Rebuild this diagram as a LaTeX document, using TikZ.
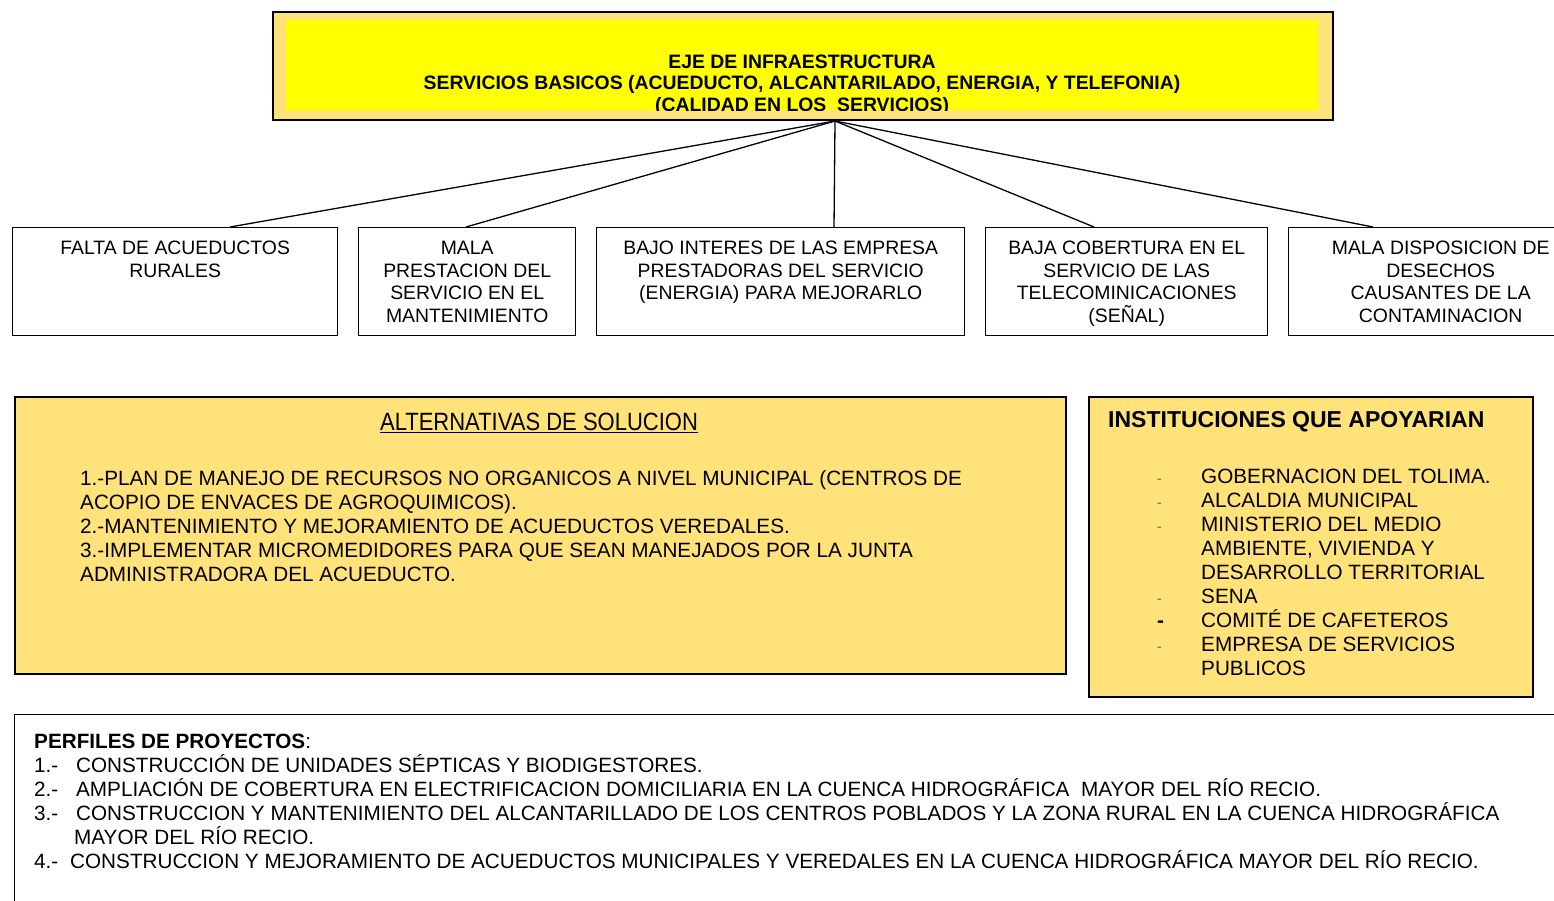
\documentclass[tikz,border=0pt]{standalone}
\usepackage{fontspec}
\setmainfont{Liberation Sans}
\usetikzlibrary{positioning}
\definecolor{oro}{RGB}{255,226,122}
\tikzset{
    Causa/.style={
        draw,
        line width=1.4pt,
        anchor=north west,
        inner sep=0pt,
        minimum height=108pt
    }
}
\tikzset{
    CausaTexto/.style={align=center, inner sep=0pt,
    font=\fontsize{19.4}{22.5}\selectfont}
}
\tikzset{
    Panel/.style={draw, line width=1.6pt, fill=oro, anchor=north west,
    inner sep=0pt}
}
\tikzset{
    Lista/.style={align=left, inner sep=0pt, anchor=north west,
    font=\fontsize{20.7}{24}\selectfont}
}
\tikzset{
    Conector/.style={line width=1.3pt}
}
\newcommand{\drawCausa}[3]{\node[Causa, minimum width=#3] (#1) at #2 {}}
\newcommand{\guion}{\makebox[44pt][l]{\textcolor{black!60}{\fontsize{14}{14}\selectfont -}}}
\newcommand{\guionB}{\makebox[44pt][l]{\textbf{-}}}
\newcommand{\sangria}{\hspace*{44pt}}

\begin{document}
\begin{tikzpicture}[x=1pt, y=-1pt]

    \useasboundingbox (0,0) rectangle (1554,901);
    \clip (0,0) rectangle (1554,901);

    % eje
    \node[Panel, line width=2pt, minimum width=1060pt, minimum height=108pt] (eje) at (272,11) {};
    \node[fill={rgb,255:red,255;green,255;blue,0}, anchor=north west, inner sep=0pt,
        minimum width=1032pt, minimum height=90pt] (ejefondo) at (286,20) {};
    \begin{scope}
        \clip (ejefondo.north west) rectangle (ejefondo.south east);
        \node[align=center, inner sep=0pt, anchor=north,
            font=\bfseries\fontsize{19.4}{21.5}\selectfont] (ejetexto) at (802,54.5)
            {EJE DE INFRAESTRUCTURA\\
             SERVICIOS BASICOS (ACUEDUCTO, ALCANTARILADO, ENERGIA, Y TELEFONIA)\\
             (CALIDAD EN LOS\ \ SERVICIOS)};
    \end{scope}
    \coordinate (hub) at ([xshift=32pt]eje.south);

    % causas
    \drawCausa{c1}{(12,227)}{325pt};
    \drawCausa{c2}{(358,227)}{217pt};
    \drawCausa{c3}{(596,227)}{368pt};
    \drawCausa{c4}{(985,227)}{282pt};
    \drawCausa{c5}{(1288,227)}{304pt};

    \node[CausaTexto, below=14pt of c1.north] (t1) {FALTA DE ACUEDUCTOS\\RURALES};
    \node[CausaTexto, below=14pt of c2.north] (t2) {MALA\\PRESTACION DEL\\SERVICIO EN EL\\MANTENIMIENTO};
    \node[CausaTexto, below=14pt of c3.north] (t3) {BAJO INTERES DE LAS EMPRESA\\PRESTADORAS DEL SERVICIO\\(ENERGIA) PARA MEJORARLO};
    \node[CausaTexto, below=14pt of c4.north] (t4) {BAJA COBERTURA EN EL\\SERVICIO DE LAS\\TELECOMINICACIONES\\(SEÑAL)};
    \node[CausaTexto, below=14pt of c5.north] (t5) {MALA DISPOSICION DE\\DESECHOS\\CAUSANTES DE LA\\CONTAMINACION};

    \draw[Conector] (hub) -- ([xshift=218pt]c1.north west);
    \draw[Conector] (hub) -- ([xshift=108pt]c2.north west);
    \draw[Conector] (hub) -- ([xshift=238pt]c3.north west);
    \draw[Conector] (hub) -- ([xshift=109pt]c4.north west);
    \draw[Conector] (hub) -- ([xshift=85pt]c5.north west);

    % alternativas
    \node[Panel, minimum width=1051pt, minimum height=277pt] (alt) at (14,396) {};
    \node[inner sep=0pt, font=\fontsize{25}{25}\selectfont] (alttitulo) at (539,423)
        {\scalebox{0.88}[1]{\underline{ALTERNATIVAS DE SOLUCION}}};
    \node[Lista] (altlista) at (80,470.6)
        {1.-PLAN DE MANEJO DE RECURSOS NO ORGANICOS A NIVEL MUNICIPAL (CENTROS DE\\
         ACOPIO DE ENVACES DE AGROQUIMICOS).\\
         2.-MANTENIMIENTO Y MEJORAMIENTO DE ACUEDUCTOS VEREDALES.\\
         3.-IMPLEMENTAR MICROMEDIDORES PARA QUE SEAN MANEJADOS POR LA JUNTA\\
         ADMINISTRADORA DEL ACUEDUCTO.};

    % instituciones
    \node[Panel, minimum width=444pt, minimum height=300pt] (inst) at (1088,396) {};
    \node[inner sep=0pt, anchor=north west, font=\bfseries\fontsize{23}{23}\selectfont]
        (insttitulo) at (1108,411.7) {INSTITUCIONES QUE APOYARIAN};
    \node[Lista] (instlista) at (1157,468.6)
        {\guion GOBERNACION DEL TOLIMA.\\
         \guion ALCALDIA MUNICIPAL\\
         \guion MINISTERIO DEL MEDIO\\
         \sangria AMBIENTE, VIVIENDA Y\\
         \sangria DESARROLLO TERRITORIAL\\
         \guion SENA\\
         \guionB COMITÉ DE CAFETEROS\\
         \guion EMPRESA DE SERVICIOS\\
         \sangria PUBLICOS};

    % perfiles
    \node[draw, line width=1.4pt, anchor=north west, inner sep=0pt,
        minimum width=1600pt, minimum height=250pt] (perf) at (14,714) {};
    \node[Lista] (perflista) at (34,733.6)
        {\textbf{PERFILES DE PROYECTOS}:\\
         \makebox[42pt][l]{1.-}CONSTRUCCIÓN DE UNIDADES SÉPTICAS Y BIODIGESTORES.\\
         \makebox[42pt][l]{2.-}AMPLIACIÓN DE COBERTURA EN ELECTRIFICACION DOMICILIARIA EN LA CUENCA HIDROGRÁFICA\ \ MAYOR DEL RÍO RECIO.\\
         \makebox[42pt][l]{3.-}CONSTRUCCION Y MANTENIMIENTO DEL ALCANTARILLADO DE LOS CENTROS POBLADOS Y LA ZONA RURAL EN LA CUENCA HIDROGRÁFICA\\
         \hspace*{40pt}MAYOR DEL RÍO RECIO.\\
         \makebox[36pt][l]{4.-}CONSTRUCCION Y MEJORAMIENTO DE ACUEDUCTOS MUNICIPALES Y VEREDALES EN LA CUENCA HIDROGRÁFICA MAYOR DEL RÍO RECIO.};

\end{tikzpicture}
\end{document}
